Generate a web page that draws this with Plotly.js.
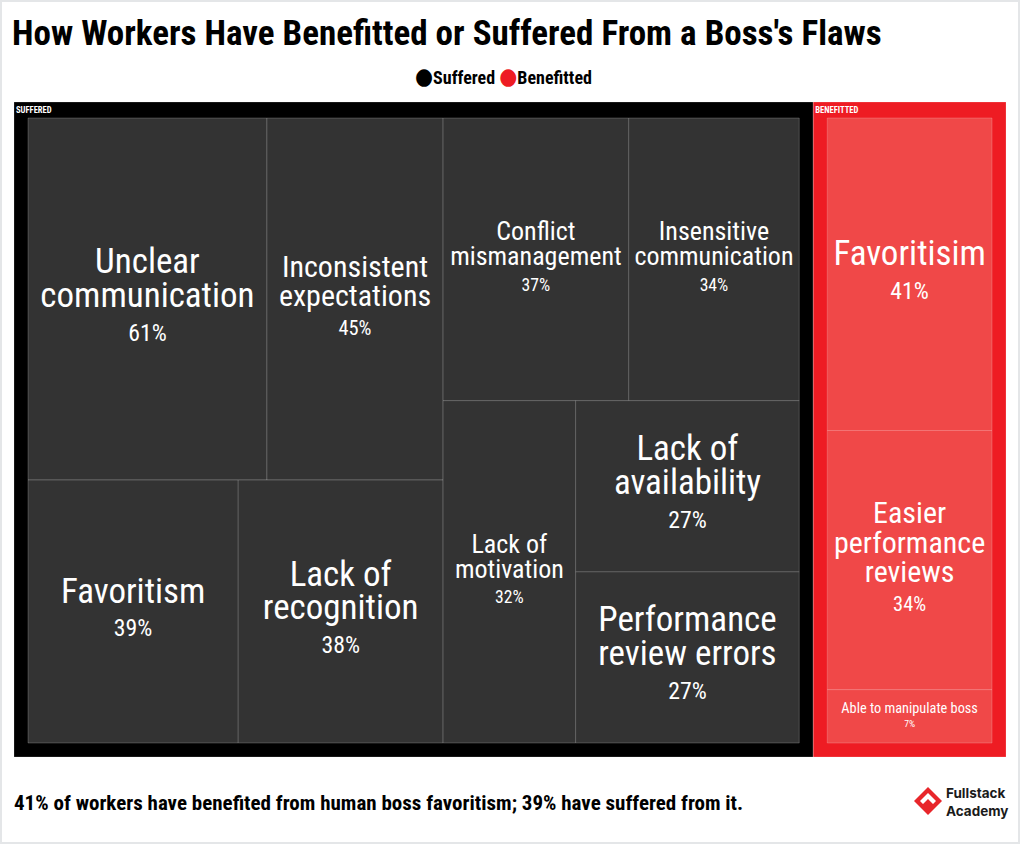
<!DOCTYPE html>
<html><head><meta charset="utf-8">
<script src="https://cdn.plot.ly/plotly-3.0.1.min.js"></script>
<style>html,body{margin:0;padding:0;background:#fff}#chart{width:1020px;height:844px}</style>
</head><body><div id="chart"></div>
<script>
// ---- data ----
const groups = ['Suffered', 'Benefitted'];
const categories = ['Unclear communication', 'Inconsistent expectations', 'Conflict mismanagement',
  'Insensitive communication', 'Favoritism', 'Lack of recognition', 'Lack of motivation',
  'Lack of availability', 'Performance review errors',
  'Favoritisim', 'Easier performance reviews', 'Able to manipulate boss'];
const categoryGroup = ['Suffered', 'Suffered', 'Suffered', 'Suffered', 'Suffered', 'Suffered',
  'Suffered', 'Suffered', 'Suffered', 'Benefitted', 'Benefitted', 'Benefitted'];
const percentValues = [61, 45, 37, 34, 39, 38, 32, 27, 27, 41, 34, 7];
const displayLines = [['Unclear', 'communication'], ['Inconsistent', 'expectations'],
  ['Conflict', 'mismanagement'], ['Insensitive', 'communication'], ['Favoritism'],
  ['Lack of', 'recognition'], ['Lack of', 'motivation'], ['Lack of', 'availability'],
  ['Performance', 'review errors'], ['Favoritisim'], ['Easier', 'performance', 'reviews'],
  ['Able to manipulate boss']];
const titleText = "How Workers Have Benefitted or Suffered From a Boss's Flaws";
const footText = '41% of workers have benefited from human boss favoritism; 39% have suffered from it.';

// ---- style ----
const FONT = "'Roboto Condensed', 'Liberation Sans Narrow', 'DejaVu Sans Condensed', Roboto, sans-serif";
const groupColor = {Suffered: '#000000', Benefitted: '#ee1c23'};
const leafColor = {Suffered: '#333333', Benefitted: '#f04848'};
// label font size per tile (percent line is ~0.68 of it)
const labelSize = [35, 30, 26, 26, 35, 35, 26, 35, 35, 35, 30, 14.3];
const TRANSPARENT = 'rgba(0,0,0,0)';
const NBSP = '\u00A0';

const ids = [], labels = [], parents = [], values = [];
const colors = [], templates = [], fsizes = [], fcolors = [], headerTemplates = [], headerColors = [];
groups.forEach(g => {
  ids.push(g); labels.push(g); parents.push(''); values.push(0);
  colors.push(groupColor[g]);
  templates.push('');
  fsizes.push(10); fcolors.push(TRANSPARENT);
  headerTemplates.push(''); headerColors.push('#ffffff');
});
categories.forEach((c, i) => {
  const g = categoryGroup[i];
  ids.push(g + '/' + c); labels.push(c); parents.push(g); values.push(percentValues[i]);
  colors.push(leafColor[g]);
  const ls = labelSize[i], ps = Math.round(ls * 0.68 * 10) / 10;
  // invisible spacer that balances the vertical centring of the text block
  const strut = '<span style="font-size:' + Math.round(ls * 1.85) + 'px">' + NBSP + '</span>';
  const lines = displayLines[i].map(l => '<span style="font-size:' + ls + 'px">' + l + '</span>');
  lines.push(strut + '<span style="font-size:' + ps + 'px">%{value}%</span>' + strut);
  templates.push(lines.join('<br>'));
  fsizes.push(ls * 0.97 / 1.3);
  fcolors.push('#ffffff');
  headerTemplates.push(''); headerColors.push(TRANSPARENT);
});

const common = {
  type: 'treemap',
  ids: ids, labels: labels, parents: parents, values: values,
  branchvalues: 'remainder',
  sort: true,
  tiling: {packing: 'binary', pad: 0},
  pathbar: {visible: false},
  root: {color: TRANSPARENT},
  leaf: {opacity: 1},
  hoverinfo: 'label+value'
};

// main tiles with centred labels
const tiles = Object.assign({}, common, {
  texttemplate: templates,
  textposition: 'middle center',
  textfont: {family: FONT, color: fcolors, size: fsizes},
  marker: {colors: colors, line: {width: 1, color: 'rgba(255,255,255,0.2)'},
    pad: {t: 16, l: 14, r: 14, b: 14}, depthfade: false}
});
// same hierarchy, transparent, only carrying the group headers at top left
const headers = Object.assign({}, common, {
  domain: {x: [12 / 1020, 1], y: [0, 1]},
  texttemplate: headerTemplates,
  textposition: 'top left',
  textfont: {family: FONT, color: headerColors, size: 12, weight: 'bold', textcase: 'upper'},
  marker: {colors: ids.map(() => TRANSPARENT), line: {width: 0},
    pad: {t: 16, l: 2, r: 14, b: 14}, depthfade: false},
  hoverinfo: 'skip'
});

const W = 1020, H = 844, L = 0, R = 0, T = 86, B = 73;
const pw = W - L - R, ph = H - T - B;
const px = x => (x - L) / pw, py = y => (H - B - y) / ph;

const layout = {
  width: W, height: H,
  margin: {l: L, r: R, t: T, b: B},
  paper_bgcolor: '#ffffff',
  font: {family: FONT, color: '#000000'},
  title: {text: '<b>' + titleText + '</b>', font: {family: FONT, size: 35, color: '#000'},
    x: 12 / W, xanchor: 'left', xref: 'container', y: 1 - 33 / H, yanchor: 'middle'},
  showlegend: false,
  annotations: [
    {text: '<span style="font-size:23px;color:#000000">●</span><b>Suffered</b> <span style="font-size:23px;color:#ee1c23">●</span><b>Benefitted</b>',
      x: px(503), y: py(77), xref: 'paper', yref: 'paper', xanchor: 'center', yanchor: 'middle',
      showarrow: false, font: {family: FONT, size: 18, color: '#000'}},
    {text: '<b>' + footText + '</b>', x: px(12), y: py(803), xref: 'paper', yref: 'paper',
      xanchor: 'left', yanchor: 'middle', showarrow: false, font: {family: FONT, size: 21, color: '#000'}},
    {text: '<b>Fullstack<br>Academy</b>', x: px(944), y: py(802), xref: 'paper', yref: 'paper',
      xanchor: 'left', yanchor: 'middle', align: 'left', showarrow: false,
      font: {family: 'Inter, Lato, sans-serif', size: 13.5, color: '#1a1a1a'}}
  ],
  shapes: [
    {type: 'rect', xref: 'paper', yref: 'paper', x0: px(1), x1: px(1019), y0: py(843), y1: py(1),
      line: {color: '#e4e6e8', width: 2}, fillcolor: TRANSPARENT, layer: 'above'},
    {type: 'path', xref: 'paper', yref: 'paper', xsizemode: 'pixel', ysizemode: 'pixel',
      xanchor: px(928), yanchor: py(801),
      path: 'M 0 14 L 14 0 L 0 -14 L -14 0 Z', fillcolor: '#e8262b', line: {width: 0}},
    {type: 'path', xref: 'paper', yref: 'paper', xsizemode: 'pixel', ysizemode: 'pixel',
      xanchor: px(928), yanchor: py(801),
      path: 'M -8 0 L 0 8 L 8 0 L 5 -3 L 0 2 L -5 -3 Z', fillcolor: '#ffffff', line: {width: 0}}
  ]
};

Plotly.newPlot('chart', [tiles, headers], layout, {displayModeBar: false});
</script></body></html>
